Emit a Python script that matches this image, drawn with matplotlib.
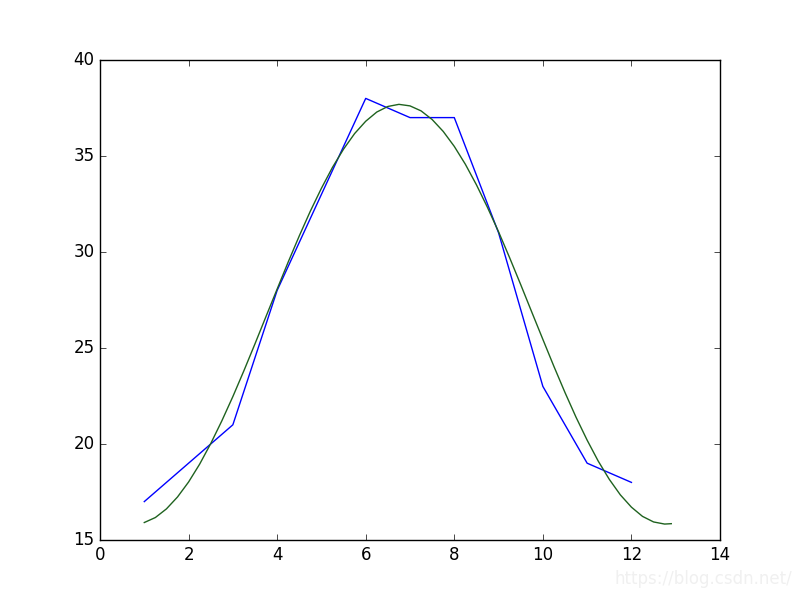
import matplotlib
matplotlib.use("Agg")
import matplotlib.pyplot as plt

plt.style.use("classic")

months = [1, 2, 3, 4, 5, 6, 7, 8, 9, 10, 11, 12]
temp_max = [17, 19, 21, 28, 33, 38, 37, 37, 31, 23, 19, 18]

fit_x = [1.00, 1.25, 1.50, 1.75, 2.00, 2.25, 2.50, 2.75, 3.00, 3.25, 3.50, 3.75,
         4.00, 4.25, 4.50, 4.75, 5.00, 5.25, 5.50, 5.75, 6.00, 6.25, 6.50, 6.75,
         7.00, 7.25, 7.50, 7.75, 8.00, 8.25, 8.50, 8.75, 9.00, 9.25, 9.50, 9.75,
         10.00, 10.25, 10.50, 10.75, 11.00, 11.25, 11.50, 11.75, 12.00, 12.25,
         12.50, 12.75, 12.90]
fit_y = [15.91, 16.17, 16.62, 17.24, 18.02, 18.95, 20.02, 21.20, 22.47, 23.82,
         25.22, 26.65, 28.07, 29.48, 30.84, 32.13, 33.32, 34.41, 35.36, 36.17,
         36.81, 37.29, 37.58, 37.69, 37.61, 37.35, 36.90, 36.28, 35.50, 34.57,
         33.50, 32.32, 31.05, 29.70, 28.30, 26.87, 25.45, 24.04, 22.68, 21.39,
         20.20, 19.11, 18.16, 17.35, 16.71, 16.23, 15.94, 15.83, 15.85]

fig = plt.figure(figsize=(8, 6), dpi=100, facecolor="white")
ax = fig.add_axes([0.125, 0.1, 0.775, 0.8])
ax.plot(months, temp_max, color="b", linewidth=1.0)
ax.plot(fit_x, fit_y, color="#1f621f", linewidth=1.0,
        solid_joinstyle="round")
ax.set_xlim(0, 14)
ax.set_ylim(15, 40)
ax.set_xticks([0, 2, 4, 6, 8, 10, 12, 14])
ax.set_yticks([15, 20, 25, 30, 35, 40])

fig.text(0.99, 0.02, "https://blog.csdn.net/", ha="right", va="bottom",
         color="#f0f0f0", fontsize=12)

fig.savefig("out.png", dpi=100, facecolor="white")
